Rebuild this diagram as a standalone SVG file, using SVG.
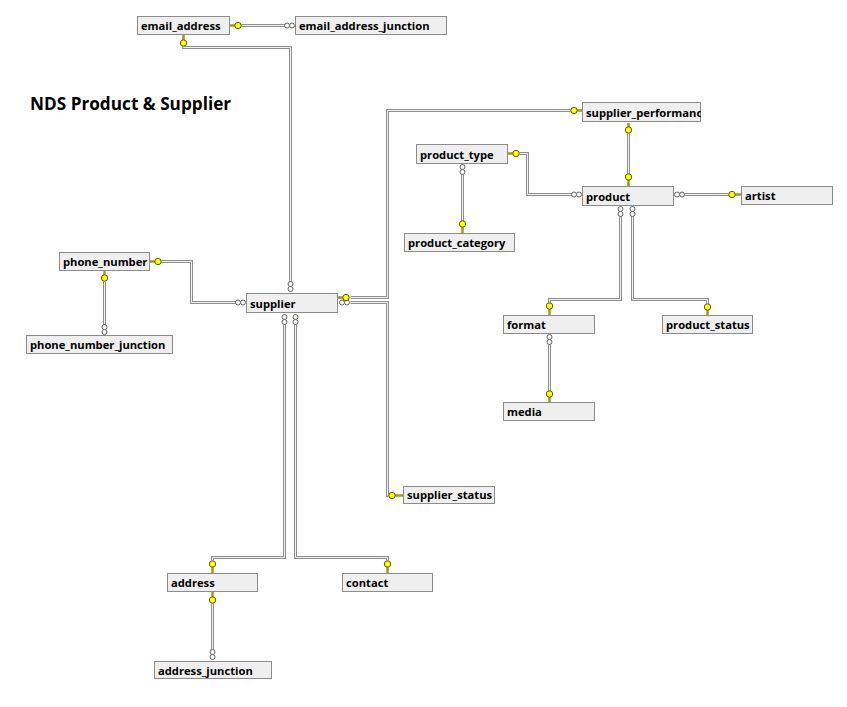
<svg xmlns="http://www.w3.org/2000/svg" width="847" height="707" viewBox="0 0 847 707">
<style>
.box{fill:#efefef;stroke:#8c8c8c;stroke-width:1}
.lbl{font-family:"Open Sans","Noto Sans","Liberation Sans",sans-serif;font-weight:700;font-size:11.2px;fill:#000}
.title{font-family:"Open Sans","Noto Sans","Liberation Sans",sans-serif;font-weight:700;font-size:17.2px;fill:#000}
.lo{fill:none;stroke:#8e8e8e;stroke-width:3}
.li{fill:none;stroke:#f2f2f2;stroke-width:1}
.kc{fill:#ffff00;stroke:#5c5c00;stroke-width:1}
.ks{stroke:#9c9c10;stroke-width:2.5}
.inf{fill:#ffffff;stroke:#555;stroke-width:0.9}
</style>
<rect width="847" height="707" fill="#ffffff"/>
<text class="title" x="30" y="110">NDS Product &amp; Supplier</text>

<g id="connectors">
<g id="c-lines" class="lo" transform="translate(0.5,0.5)">
<path d="M241,25 H286"/>
<path d="M183,45 V47 H290 V282"/>
<path d="M161,261 H191 V302 H236"/>
<path d="M104,281 V325"/>
<path d="M350,297 H387 V110 H570"/>
<path d="M350,302 H387 V495 H388"/>
<path d="M284,324 V557 H212 V560"/>
<path d="M295,324 V557 H387 V560"/>
<path d="M212,603 V650"/>
<path d="M628,133 V174"/>
<path d="M519,153 H527 V194 H572"/>
<path d="M462,173 V221"/>
<path d="M684,194 H729"/>
<path d="M620,215 V299 H549 V303"/>
<path d="M632,215 V299 H707 V304"/>
<path d="M549,344 V391"/>
</g>
<g class="li" transform="translate(0.5,0.5)">
<path d="M241,25 H286"/>
<path d="M183,45 V47 H290 V282"/>
<path d="M161,261 H191 V302 H236"/>
<path d="M104,281 V325"/>
<path d="M350,297 H387 V110 H570"/>
<path d="M350,302 H387 V495 H388"/>
<path d="M284,324 V557 H212 V560"/>
<path d="M295,324 V557 H387 V560"/>
<path d="M212,603 V650"/>
<path d="M628,133 V174"/>
<path d="M519,153 H527 V194 H572"/>
<path d="M462,173 V221"/>
<path d="M684,194 H729"/>
<path d="M620,215 V299 H549 V303"/>
<path d="M632,215 V299 H707 V304"/>
<path d="M549,344 V391"/>
</g>
<g id="many-ends">
<circle class="inf" cx="287" cy="25.5" r="2.5"/><circle class="inf" cx="292" cy="25.5" r="2.5"/>
<circle class="inf" cx="290.5" cy="284" r="2.5"/><circle class="inf" cx="290.5" cy="289" r="2.5"/>
<circle class="inf" cx="238" cy="302.5" r="2.5"/><circle class="inf" cx="243" cy="302.5" r="2.5"/>
<circle class="inf" cx="342" cy="302.5" r="2.5"/><circle class="inf" cx="347" cy="302.5" r="2.5"/>
<circle class="inf" cx="284.5" cy="317" r="2.5"/><circle class="inf" cx="284.5" cy="322" r="2.5"/>
<circle class="inf" cx="295.5" cy="317" r="2.5"/><circle class="inf" cx="295.5" cy="322" r="2.5"/>
<circle class="inf" cx="104.5" cy="327" r="2.5"/><circle class="inf" cx="104.5" cy="332" r="2.5"/>
<circle class="inf" cx="212.5" cy="652" r="2.5"/><circle class="inf" cx="212.5" cy="657" r="2.5"/>
<circle class="inf" cx="574" cy="194.5" r="2.5"/><circle class="inf" cx="579" cy="194.5" r="2.5"/>
<circle class="inf" cx="677" cy="194.5" r="2.5"/><circle class="inf" cx="682" cy="194.5" r="2.5"/>
<circle class="inf" cx="620.5" cy="209" r="2.5"/><circle class="inf" cx="620.5" cy="214" r="2.5"/>
<circle class="inf" cx="632.5" cy="209" r="2.5"/><circle class="inf" cx="632.5" cy="214" r="2.5"/>
<circle class="inf" cx="462.5" cy="167" r="2.5"/><circle class="inf" cx="462.5" cy="172" r="2.5"/>
<circle class="inf" cx="549.5" cy="337" r="2.5"/><circle class="inf" cx="549.5" cy="342" r="2.5"/>
</g>
<g id="key-ends">
<line class="ks" x1="230" y1="25.5" x2="236" y2="25.5"/><circle class="kc" cx="238" cy="25.5" r="3.2"/>
<line class="ks" x1="183.5" y1="35" x2="183.5" y2="41"/><circle class="kc" cx="183.5" cy="43" r="3.2"/>
<line class="ks" x1="150" y1="261.5" x2="156" y2="261.5"/><circle class="kc" cx="158" cy="261.5" r="3.2"/>
<line class="ks" x1="104.5" y1="271" x2="104.5" y2="276"/><circle class="kc" cx="104.5" cy="278" r="3.2"/>
<line class="ks" x1="338" y1="297.5" x2="344" y2="297.5"/><circle class="kc" cx="346" cy="297.5" r="3.2"/>
<line class="ks" x1="582" y1="110.5" x2="576" y2="110.5"/><circle class="kc" cx="574" cy="110.5" r="3.2"/>
<line class="ks" x1="628.5" y1="123" x2="628.5" y2="128"/><circle class="kc" cx="628.5" cy="130" r="3.2"/>
<line class="ks" x1="628.5" y1="186" x2="628.5" y2="179"/><circle class="kc" cx="628.5" cy="177" r="3.2"/>
<line class="ks" x1="508" y1="153.5" x2="514" y2="153.5"/><circle class="kc" cx="516" cy="153.5" r="3.2"/>
<line class="ks" x1="462.5" y1="233" x2="462.5" y2="226"/><circle class="kc" cx="462.5" cy="224" r="3.2"/>
<line class="ks" x1="741" y1="194.5" x2="734" y2="194.5"/><circle class="kc" cx="732" cy="194.5" r="3.2"/>
<line class="ks" x1="549.5" y1="315" x2="549.5" y2="308"/><circle class="kc" cx="549.5" cy="306" r="3.2"/>
<line class="ks" x1="707.5" y1="315" x2="707.5" y2="309"/><circle class="kc" cx="707.5" cy="307" r="3.2"/>
<line class="ks" x1="549.5" y1="402" x2="549.5" y2="396"/><circle class="kc" cx="549.5" cy="394" r="3.2"/>
<line class="ks" x1="403" y1="495.5" x2="394" y2="495.5"/><circle class="kc" cx="392" cy="495.5" r="3.2"/>
<line class="ks" x1="212.5" y1="573" x2="212.5" y2="566"/><circle class="kc" cx="212.5" cy="564" r="3.2"/>
<line class="ks" x1="212.5" y1="592" x2="212.5" y2="598"/><circle class="kc" cx="212.5" cy="600" r="3.2"/>
<line class="ks" x1="387.5" y1="573" x2="387.5" y2="566"/><circle class="kc" cx="387.5" cy="564" r="3.2"/>
</g>
</g>

<g id="email_address"><rect class="box" x="137.5" y="16.5" width="92" height="18"/><text class="lbl" x="141" y="30">email_address</text></g>
<g id="email_address_junction"><rect class="box" x="295.5" y="16.5" width="151" height="18"/><text class="lbl" x="299" y="30">email_address_junction</text></g>
<g id="supplier"><rect class="box" x="246.5" y="293.5" width="91" height="19"/><text class="lbl" x="250" y="308">supplier</text></g>
<g id="phone_number"><rect class="box" x="59.5" y="252.5" width="90" height="18"/><text class="lbl" x="63" y="266">phone_number</text></g>
<g id="phone_number_junction"><rect class="box" x="26.5" y="335.5" width="146" height="18"/><text class="lbl" x="30" y="349">phone_number_junction</text></g>
<g id="supplier_performance"><svg x="582" y="102" width="119" height="21" overflow="hidden"><rect class="box" x="0.5" y="0.5" width="118" height="19"/><text class="lbl" x="4" y="15">supplier_performance</text></svg></g>
<g id="product_type"><rect class="box" x="416.5" y="144.5" width="91" height="19"/><text class="lbl" x="420" y="159">product_type</text></g>
<g id="product_category"><rect class="box" x="404.5" y="233.5" width="110" height="18"/><text class="lbl" x="408" y="247">product_category</text></g>
<g id="product"><rect class="box" x="582.5" y="186.5" width="91" height="19"/><text class="lbl" x="586" y="201">product</text></g>
<g id="artist"><rect class="box" x="741.5" y="186.5" width="91" height="18"/><text class="lbl" x="745" y="200">artist</text></g>
<g id="format"><rect class="box" x="503.5" y="315.5" width="91" height="18"/><text class="lbl" x="507" y="329">format</text></g>
<g id="product_status"><rect class="box" x="662.5" y="315.5" width="90" height="18"/><text class="lbl" x="666" y="329">product_status</text></g>
<g id="media"><rect class="box" x="503.5" y="402.5" width="91" height="18"/><text class="lbl" x="507" y="416">media</text></g>
<g id="supplier_status"><rect class="box" x="403.5" y="486.5" width="91" height="17"/><text class="lbl" x="407" y="499">supplier_status</text></g>
<g id="address"><rect class="box" x="167.5" y="573.5" width="90" height="18"/><text class="lbl" x="171" y="587">address</text></g>
<g id="contact"><rect class="box" x="342.5" y="573.5" width="90" height="18"/><text class="lbl" x="346" y="587">contact</text></g>
<g id="address_junction"><rect class="box" x="154.5" y="661.5" width="117" height="17"/><text class="lbl" x="158" y="675">address_junction</text></g>
</svg>
